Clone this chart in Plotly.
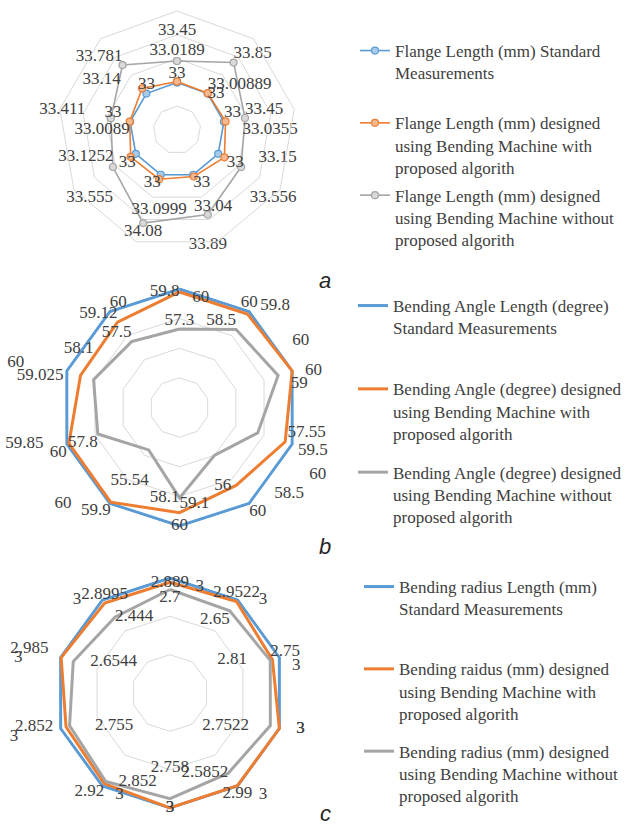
import plotly.graph_objects as go

# ---------------- data ----------------
spokes_a = ["1", "2", "3", "4", "5", "6", "7", "8", "9"]
flange_standard = [33, 33, 33, 33, 33, 33, 33, 33, 33]
flange_with = [33.0189, 33.00889, 33.0355, 33.15, 33.04, 33.0999, 33.1252, 33.0089, 33.14]
flange_without = [33.45, 33.85, 33.45, 33.556, 33.89, 34.08, 33.555, 33.411, 33.781]

spokes_bc = ["1", "2", "3", "4", "5", "6", "7", "8", "9", "10"]
angle_standard = [60, 60, 60, 60, 60, 60, 60, 60, 60, 60]
angle_with = [59.8, 59.8, 60, 59.5, 58.5, 59.1, 59.9, 59.85, 59.025, 59.12]
angle_without = [57.3, 58.5, 59, 57.55, 56, 58.1, 55.54, 57.8, 58.1, 57.5]

radius_standard = [3, 3, 3, 3, 3, 3, 3, 3, 3, 3]
radius_with = [2.889, 2.9522, 2.81, 3, 2.99, 3, 2.92, 2.852, 2.985, 2.8995]
radius_without = [2.7, 2.65, 2.75, 2.7522, 2.5852, 2.758, 2.852, 2.755, 2.6544, 2.444]

names_a = ["Flange Length (mm) Standard<br>Measurements<br>\u00a0",
           "Flange Length (mm) designed<br>using Bending Machine with<br>proposed algorith",
           "Flange Length (mm) designed<br>using Bending Machine without<br>proposed algorith"]
names_b = ["Bending Angle Length (degree)<br>Standard Measurements<br>\u00a0",
           "Bending Angle (degree) designed<br>using Bending Machine with<br>proposed algorith",
           "Bending Angle (degree) designed<br>using Bending Machine without<br>proposed algorith"]
names_c = ["Bending radius Length (mm)<br>Standard Measurements<br>\u00a0",
           "Bending raidus (mm) designed<br>using Bending Machine with<br>proposed algorith",
           "Bending radius (mm) designed<br>using Bending Machine without<br>proposed algorith"]

# ---------------- styles ----------------
BLUE, ORANGE, GREY = "#5B9BD5", "#ED7D31", "#A5A5A5"
FILL = {BLUE: "#A9CBEA", ORANGE: "#F5B992", GREY: "#D9D9D9"}
TXT = "#404040"
SERIF = "Liberation Serif"
NB = "\u00a0"
W, H = 638, 837

# label placement: (textposition, horizontal nbsp pad, vertical blank lines)
pos_a = {
    "std": [("top center", 0, 0), ("middle right", 0, 0), ("top right", 0, 0), ("bottom right", 2, 0),
            ("bottom right", 0, 0), ("bottom left", 0, 0), ("bottom left", 0, 0), ("top left", 2, 0),
            ("top center", 0, 0)],
    "with": [("top center", 0, 1), ("top right", 0, 0), ("bottom right", 4, 0), ("middle right", 8, 0),
             ("bottom right", 0, 1), ("bottom center", 0, 1), ("middle left", 4, 0), ("bottom left", 0, 0),
             ("top left", 5, 0)],
    "without": [("top center", 0, 1), ("top right", 0, 0), ("top right", 0, 0), ("bottom right", 2, 1),
                ("bottom center", 0, 1), ("bottom center", 0, 0), ("bottom left", 0, 1), ("top left", 6, 0),
                ("top left", 0, 0)],
}
pos_b = {
    "std": [("bottom right", 3, 0), ("top center", 0, 0), ("top right", 0, 1), ("bottom right", 4, 1),
            ("bottom right", 0, 0), ("middle center", 0, 0), ("middle left", 9, 0), ("bottom left", 0, 0),
            ("top left", 10, 0), ("top right", 0, 0)],
    "with": [("middle left", 0, 0), ("top right", 3, 0), ("middle right", 3, 0), ("bottom right", 3, 0),
             ("bottom right", 9, 0), ("top right", 0, 0), ("bottom left", 0, 0), ("middle left", 6, 0),
             ("middle left", 4, 0), ("top left", 0, 0)],
    "without": [("top center", 0, 0), ("top left", 0, 0), ("bottom right", 3, 0), ("middle right", 7, 0),
                ("bottom right", 0, 1), ("middle left", 0, 0), ("bottom left", 0, 1), ("bottom left", 0, 0),
                ("top left", 0, 1), ("top left", 0, 0)],
}
pos_c = {
    "std": [("bottom right", 6, 0), ("middle right", 5, 0), ("bottom right", 3, 0), ("middle right", 4, 0),
            ("bottom right", 5, 0), ("middle center", 0, 0), ("bottom right", 3, 0), ("bottom left", 10, 0),
            ("middle left", 9, 0), ("middle left", 5, 0)],
    "with": [("middle center", 0, 0), ("top center", 0, 0), ("middle left", 6, 0), ("middle right", 4, 0),
             ("bottom center", 0, 0), ("middle center", 0, 0), ("bottom left", 0, 0), ("middle left", 3, 0),
             ("top left", 3, 0), ("top center", 0, 0)],
    "without": [("bottom center", 0, 0), ("bottom left", 0, 0), ("top right", 0, 0), ("middle left", 5, 0),
                ("middle left", 0, 0), ("top center", 0, 1), ("middle right", 3, 0), ("middle right", 6, 0),
                ("middle right", 4, 0), ("middle right", 0, 0)],
}


def lab(v, spec):
    pos, h, n = spec
    s = str(v)
    if "left" in pos:
        s = s + NB * h
    elif "right" in pos:
        s = NB * h + s
    if pos.startswith("top"):
        s = s + ("<br>" + NB) * n
    elif pos.startswith("bottom"):
        s = (NB + "<br>") * n + s
    return s


fig = go.Figure()


def add_chart(polar, legend, cats, series, posmap, markers, width):
    keys = ["std", "with", "without"]
    for i, (vals, color, name) in enumerate(series):
        tr = dict(r=vals + vals[:1], theta=cats + cats[:1], subplot=polar, legend=legend,
                  name=name, legendgroup=f"{legend}_{i}", hoverinfo="skip", cliponaxis=False,
                  line=dict(color=color, width=width))
        if markers:
            tr.update(mode="lines+markers",
                      marker=dict(size=7, color=FILL[color], line=dict(color=color, width=1.2)))
        else:
            tr.update(mode="lines")
        fig.add_trace(go.Scatterpolar(**tr))
    for i, (vals, color, name) in enumerate(series):
        specs = posmap[keys[i]]
        fig.add_trace(go.Scatterpolar(
            r=vals, theta=cats, subplot=polar, mode="text", showlegend=False, hoverinfo="skip",
            text=[lab(v, s) for v, s in zip(vals, specs)],
            textposition=[s[0] for s in specs],
            textfont=dict(family=SERIF, size=17, color=TXT), cliponaxis=False))


add_chart("polar", "legend", spokes_a,
          [(flange_standard, BLUE, names_a[0]), (flange_with, ORANGE, names_a[1]),
           (flange_without, GREY, names_a[2])], pos_a, True, 1.6)
add_chart("polar2", "legend2", spokes_bc,
          [(angle_standard, BLUE, names_b[0]), (angle_with, ORANGE, names_b[1]),
           (angle_without, GREY, names_b[2])], pos_b, False, 3)
add_chart("polar3", "legend3", spokes_bc,
          [(radius_standard, BLUE, names_c[0]), (radius_with, ORANGE, names_c[1]),
           (radius_without, GREY, names_c[2])], pos_c, False, 3)


def polar_cfg(cx, cy, radius, lo, hi, dtick, extra_px=0.0, outline=True):
    # extend the radial range by a few pixels so thick lines on the outer ring are not clipped
    span = hi - lo
    hi_ext = hi + span * extra_px / radius
    rad = radius * (hi_ext - lo) / span
    return dict(
        domain=dict(x=[(cx - rad) / W, (cx + rad) / W], y=[1 - (cy + rad) / H, 1 - (cy - rad) / H]),
        bgcolor="rgba(0,0,0,0)", gridshape="linear",
        radialaxis=dict(range=[lo, hi_ext], dtick=dtick, tick0=lo, showticklabels=False, ticks="",
                        showline=False, gridcolor="#D9D9D9", gridwidth=1),
        angularaxis=dict(rotation=90, direction="clockwise", showticklabels=False, ticks="",
                         showgrid=False, showline=outline, linecolor="#D9D9D9", linewidth=1))


def legend_cfg(x, y, gap):
    return dict(x=x, y=y, xanchor="left", yanchor="top", bgcolor="rgba(0,0,0,0)",
                font=dict(family=SERIF, size=17, color=TXT), valign="top",
                tracegroupgap=gap, itemwidth=30, traceorder="grouped")


fig.update_layout(
    width=W, height=H, margin=dict(l=0, r=0, t=0, b=0),
    paper_bgcolor="white", plot_bgcolor="white",
    font=dict(family=SERIF, color=TXT),
    polar=polar_cfg(177, 130, 119, 32, 34.5, 0.5),
    polar2=polar_cfg(179.5, 407.5, 118.5, 52, 60, 2, extra_px=1.8, outline=False),
    polar3=polar_cfg(170, 693, 115, 0, 3, 1, extra_px=1.8, outline=False),
    legend=legend_cfg(355 / W, 1 - 33 / H, 3),
    legend2=legend_cfg(353 / W, 1 - 288 / H, 14),
    legend3=legend_cfg(359 / W, 1 - 569 / H, 13),
    annotations=[
        dict(text="<i>a</i>", x=325 / W, y=1 - 266 / H, xref="paper", yref="paper",
             showarrow=False, font=dict(family="Liberation Sans", size=22, color="#262626")),
        dict(text="<i>b</i>", x=325 / W, y=1 - 546 / H, xref="paper", yref="paper",
             showarrow=False, font=dict(family="Liberation Sans", size=22, color="#262626")),
        dict(text="<i>c</i>", x=325 / W, y=1 - 828 / H, xref="paper", yref="paper",
             showarrow=False, font=dict(family="Liberation Sans", size=22, color="#262626")),
    ],
)

fig.write_html("out.html", config={"displayModeBar": False},
               post_script="document.body.style.margin='0';")
